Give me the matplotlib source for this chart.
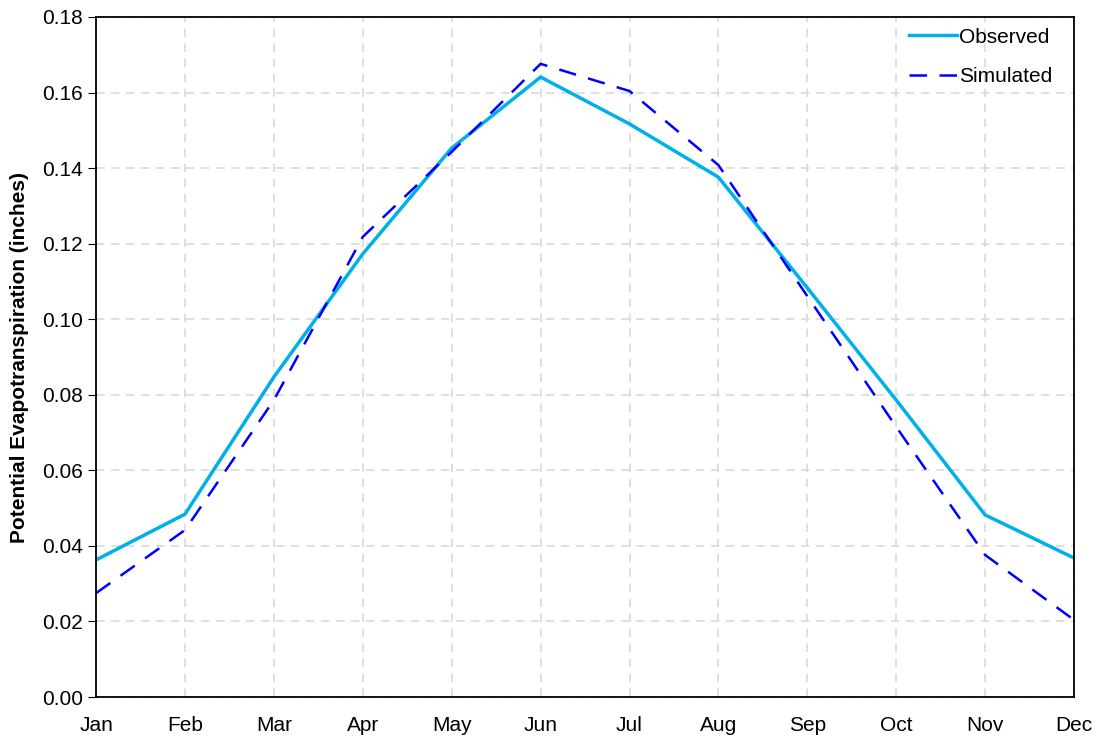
import matplotlib.pyplot as plt

months = ['Jan', 'Feb', 'Mar', 'Apr', 'May', 'Jun', 'Jul', 'Aug', 'Sep', 'Oct', 'Nov', 'Dec']
observed = [0.0363, 0.0484, 0.0847, 0.1173, 0.1453, 0.1641, 0.1517, 0.1376, 0.1083, 0.0786, 0.0482, 0.0368]
simulated = [0.0275, 0.0442, 0.0786, 0.1218, 0.1443, 0.1676, 0.1604, 0.1408, 0.1061, 0.0715, 0.0376, 0.0204]

plt.rcParams['font.family'] = ['Liberation Sans Narrow', 'Liberation Sans', 'DejaVu Sans']

fig = plt.figure(figsize=(10.99, 7.42), dpi=100)
ax = fig.add_axes([0.0874, 0.0606, 0.8899, 0.9165])

x = list(range(len(months)))
ax.plot(x, observed, color='#00b0e8', lw=2.5, label='Observed')
ax.plot(x, simulated, color='#0000ff', lw=1.8, dashes=(7, 5), label='Simulated')

ax.set_xlim(0, 11)
ax.set_ylim(0, 0.18)
ax.set_xticks(x)
ax.set_xticklabels(months)
ax.set_yticks([i * 0.02 for i in range(10)])
ax.yaxis.set_major_formatter(plt.FormatStrFormatter('%.2f'))
ax.tick_params(axis='both', labelsize=15)
ax.tick_params(axis='x', length=0, pad=14)
ax.tick_params(axis='y', length=6, direction='out')
ax.grid(True, color='#d9d9d9', ls=(0, (5, 4)), lw=1.2)
for s in ax.spines.values():
    s.set_linewidth(1.3)

ax.set_ylabel('Potential Evapotranspiration (inches)', fontsize=15, fontweight='bold', labelpad=9)
ax.legend(loc='upper right', bbox_to_anchor=(0.997, 1.012), frameon=False, fontsize=15,
          handlelength=2.3, handletextpad=0.1, labelspacing=1.0)

fig.savefig('out.png', dpi=100)
